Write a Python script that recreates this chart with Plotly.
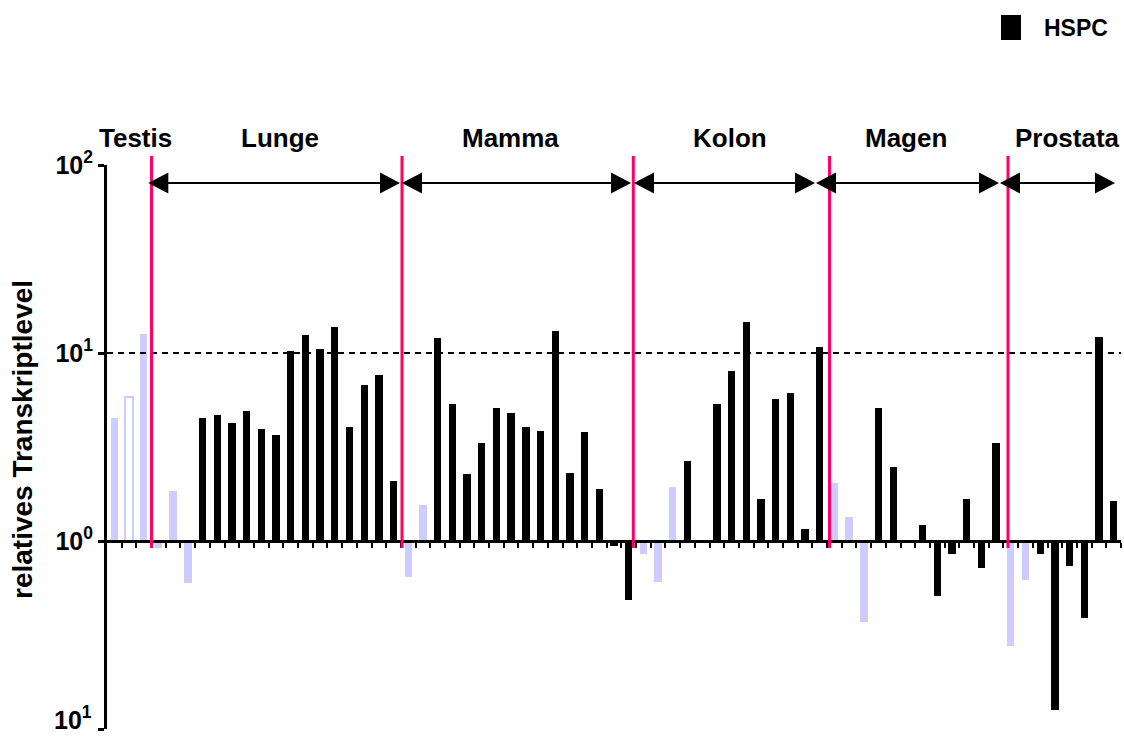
import plotly.graph_objects as go

# Relative transcript level per sample (log scale, 1 = reference level).
samples = list(range(69))

hspc = [
    None, None, None, None, None, None,                      # 0-5
    4.49, 4.68, 4.26, 4.93, 3.96, 3.68, 10.3, 12.5, 10.55,   # 6-14
    13.8, 4.05, 6.76, 7.64, 2.09,                            # 15-19
    None, None,                                              # 20-21
    11.97, 5.34, 2.26, 3.33, 5.08, 4.82, 4.05, 3.86, 13.1,   # 22-30
    2.31, 3.82, 1.90, 0.94, 0.486,                           # 31-35
    None, None, None,                                        # 36-38
    2.66, None, 5.34, 8.05, 14.56, 1.67, 5.71, 6.15, 1.16,   # 39-47
    10.8,                                                    # 48
    None, None, None,                                        # 49-51
    5.08, 2.48, None, 1.22, 0.51, 0.853, 1.68, 0.716, 3.33,  # 52-60
    None, None,                                              # 61-62
    0.853, 0.126, 0.736, 0.388, 12.2, 1.64,                  # 63-68
]

controls = [
    4.49, 5.86, 12.6, 0.92, 1.85, 0.60,                      # 0-5
    None, None, None, None, None, None, None, None, None,
    None, None, None, None, None,                            # 6-19
    0.64, 1.56,                                              # 20-21
    None, None, None, None, None, None, None, None, None,
    None, None, None, None, None,                            # 22-35
    0.853, 0.607, 1.94,                                      # 36-38
    None, None, None, None, None, None, None, None, None,
    None,                                                    # 39-48
    2.04, 1.35, 0.369,                                       # 49-51
    None, None, None, None, None, None, None, None, None,    # 52-60
    0.276, 0.62,                                             # 61-62
    None, None, None, None, None, None,                      # 63-68
]

tissues = ["Testis", "Lunge", "Mamma", "Kolon", "Magen", "Prostata"]
y_tick_vals = [0.1, 1, 10, 100]
y_tick_text = ["10<sup>1</sup>", "10<sup>0</sup>", "10<sup>1</sup>", "10<sup>2</sup>"]
series_name = "HSPC"
threshold = 10

# ---- styling / layout constants ----
FONT = "Liberation Sans, Arial, sans-serif"
BLACK = "#000000"
LILAC = "#CCCCFF"
PINK = "#FF0066"
W, H = 1124, 736
M_L, M_R, M_T, M_B = 107, 3, 165, 7
PLOT_W = W - M_L - M_R
PLOT_H = H - M_T - M_B
N = len(samples)
SLOT = PLOT_W / N
TICK_FONT = dict(family=FONT, size=25, color=BLACK, weight="bold")


def px_to_x(px):
    return (px - M_L) / SLOT - 0.5


def py_to_paper(py):
    return (H - M_B - py) / PLOT_H


def px_to_paper(px):
    return (px - M_L) / PLOT_W


def bar_parts(vals):
    """Bars grow from the reference level 1 up or down."""
    base = [None if v is None else min(v, 1.0) for v in vals]
    span = [None if v is None else abs(v - 1.0) for v in vals]
    return base, span


fig = go.Figure()

c_base, c_span = bar_parts(controls)
c_fill = [("#FFFFFF" if i == 1 else LILAC) for i in samples]
c_line_w = [(2 if i == 1 else 0) for i in samples]
fig.add_trace(go.Bar(
    x=samples, y=c_span, base=c_base, width=0.5,
    marker=dict(color=c_fill, line=dict(color=LILAC, width=c_line_w)),
    showlegend=False, hoverinfo="skip",
))

h_base, h_span = bar_parts(hspc)
fig.add_trace(go.Bar(
    x=samples, y=h_span, base=h_base, width=0.5, name=series_name,
    marker=dict(color=BLACK, line=dict(width=0)),
    showlegend=False,
))

# dashed threshold line at 10^1
fig.add_trace(go.Scatter(
    x=[-0.5, N - 0.5], y=[threshold, threshold], mode="lines",
    line=dict(color=BLACK, width=2, dash="6px,5px"),
    showlegend=False, hoverinfo="skip",
))

shapes = []
annotations = []

# tissue dividers
divider_px = [151.5, 402, 633.3, 829.5, 1008]
for px in divider_px:
    x = px_to_x(px)
    shapes.append(dict(type="line", xref="x", yref="paper", x0=x, x1=x,
                       y0=py_to_paper(548), y1=py_to_paper(156),
                       line=dict(color=PINK, width=3), layer="above"))

# double-headed range arrows
arrow_px = [(148.3, 400), (402, 631), (634, 815), (816, 999), (1000, 1115)]
ay = py_to_paper(183)
head_len = 20 / SLOT
head_half = 10.5 / PLOT_H
for a, b in arrow_px:
    xa, xb = px_to_x(a), px_to_x(b)
    shapes.append(dict(type="line", xref="x", yref="paper", x0=xa + head_len * 0.5,
                       x1=xb - head_len * 0.5, y0=ay, y1=ay,
                       line=dict(color=BLACK, width=2)))
    shapes.append(dict(type="path", xref="x", yref="paper",
                       path=f"M {xa},{ay} L {xa + head_len},{ay + head_half} "
                            f"L {xa + head_len},{ay - head_half} Z",
                       fillcolor=BLACK, line=dict(width=0)))
    shapes.append(dict(type="path", xref="x", yref="paper",
                       path=f"M {xb},{ay} L {xb - head_len},{ay + head_half} "
                            f"L {xb - head_len},{ay - head_half} Z",
                       fillcolor=BLACK, line=dict(width=0)))

# tissue names
label_px = [135, 280, 510, 730, 905.5, 1067.5]
for name, px in zip(tissues, label_px):
    annotations.append(dict(text=name, xref="x", yref="paper", x=px_to_x(px),
                            y=py_to_paper(138), showarrow=False,
                            xanchor="center", yanchor="middle",
                            font=dict(family=FONT, size=26, color=BLACK, weight="bold")))

# lowest tick label sits on the bottom edge, so it is lifted to stay in view
axis_labels = list(y_tick_text)
annotations.append(dict(text=axis_labels[0], xref="paper", yref="paper",
                        x=px_to_paper(94), y=py_to_paper(736), showarrow=False,
                        xanchor="right", yanchor="bottom", font=TICK_FONT))
axis_labels[0] = ""

# legend swatch + label
shapes.append(dict(type="rect", xref="paper", yref="paper",
                   x0=px_to_paper(1001), x1=px_to_paper(1021),
                   y0=py_to_paper(40), y1=py_to_paper(15),
                   fillcolor=BLACK, line=dict(width=0)))
annotations.append(dict(text=series_name, xref="paper", yref="paper",
                        x=px_to_paper(1042), y=py_to_paper(28), showarrow=False,
                        xanchor="left", yanchor="middle",
                        font=dict(family=FONT, size=23, color=BLACK, weight="bold")))

# y-axis title
annotations.append(dict(text="relatives Transkriptlevel", xref="paper", yref="paper",
                        x=px_to_paper(22), y=py_to_paper(440), showarrow=False,
                        textangle=-90, xanchor="center", yanchor="middle",
                        font=dict(family=FONT, size=28, color=BLACK, weight="bold")))

fig.update_layout(
    width=W, height=H,
    margin=dict(l=M_L, r=M_R, t=M_T, b=M_B, autoexpand=False),
    paper_bgcolor="white", plot_bgcolor="white",
    barmode="overlay", bargap=0,
    shapes=shapes, annotations=annotations,
    xaxis=dict(range=[-0.5, N - 0.5], anchor="free", position=1 / 3,
               showline=True, linecolor=BLACK, linewidth=3,
               ticks="outside", tickvals=[i + 0.5 for i in samples],
               ticklen=5, tickwidth=2, tickcolor=BLACK,
               showticklabels=False, showgrid=False, zeroline=False),
    yaxis=dict(type="log", range=[-1, 2], showline=True, linecolor=BLACK,
               linewidth=3, ticks="outside", ticklen=6, tickwidth=3,
               tickcolor=BLACK, tickvals=y_tick_vals, ticktext=axis_labels,
               ticklabeloverflow="allow", tickfont=TICK_FONT,
               showgrid=False, zeroline=False),
)

fig.write_html("out.html")
